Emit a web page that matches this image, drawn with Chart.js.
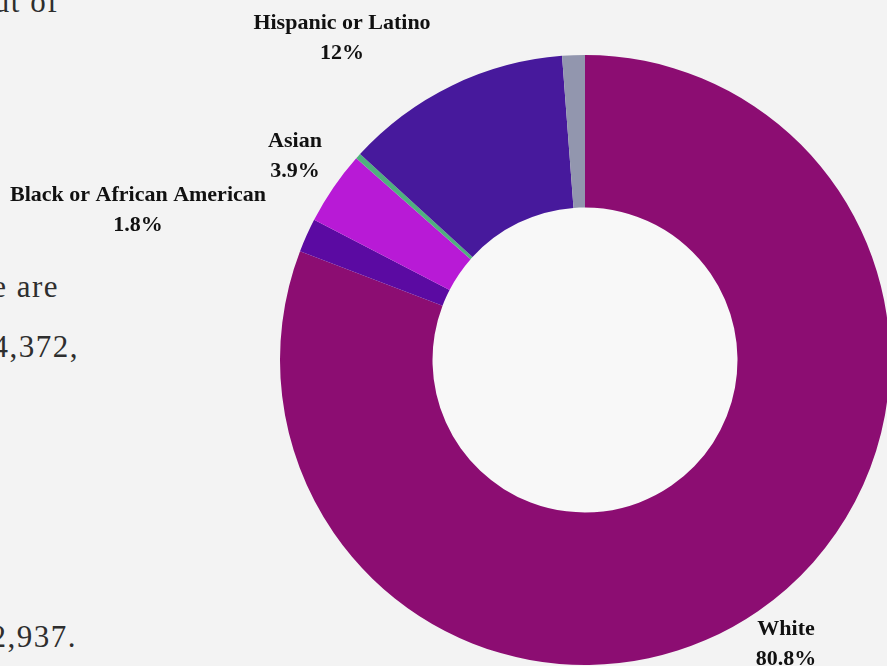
<!DOCTYPE html>
<html>
<head>
<meta charset="utf-8">
<script src="https://cdn.jsdelivr.net/npm/chart.js@4"></script>
<style>

    html, body {
        margin: 0;
        padding: 0;
        width: 887px;
        height: 666px;
        overflow: hidden;
        background: #f3f3f3;
    }

    .texto {
        position: absolute;
        font-family: 'Liberation Serif';
        font-size: 31px;
        line-height: 30px;
        letter-spacing: 1.5px;
        color: #2e2e2e;
        white-space: nowrap;
        text-align: right;
    }

    #contenedor {
        position: absolute;
        left: 0;
        top: 0;
        width: 900px;
        height: 666px;
    }

</style>
</head>
<body>

<!-- fragmentos del texto del documento -->
<div class="texto" style="right:828px; top:-13px;">ut of</div>
<div class="texto" style="right:828px; top:272px;">e are</div>
<div class="texto" style="right:808px; top:332px;">4,372,</div>
<div class="texto" style="right:810px; top:622px;">2,937.</div>

<div id="contenedor">
    <canvas id="graficaRaza"></canvas>
</div>

<script>

// ===============================
// DATOS
// ===============================

const categorias = [
    "White",
    "Black or African American",
    "Asian",
    "American Indian or Alaska Native",
    "Hispanic or Latino",
    "Two or More Races"
];

const porcentajes = [80.8, 1.8, 3.9, 0.3, 12, 1.2];

const etiquetas = ["80.8%", "1.8%", "3.9%", "", "12%", ""];

const colores = [
    "#8c0d72",
    "#5b0aa2",
    "#b81ad6",
    "#4fb07e",
    "#47199c",
    "#9296ae"
];


// ===============================
// ETIQUETAS FUERA DEL ANILLO
// ===============================

// desplazamiento del centro de cada etiqueta respecto al centro del anillo
const posicionEtiqueta = {
    0: [201, 284],
    1: [-447, -150],
    2: [-290, -204],
    4: [-243, -322]
};

const fuenteEtiqueta = "bold 22px 'Liberation Serif'";

const pluginEtiquetas = {

    id: "etiquetasExternas",

    beforeDatasetsDraw(chart) {

        const arco = chart.getDatasetMeta(0).data[0];
        const ctx = chart.ctx;

        ctx.save();
        ctx.fillStyle = "#f8f8f8";
        ctx.beginPath();
        ctx.arc(arco.x, arco.y, arco.innerRadius, 0, Math.PI * 2);
        ctx.fill();
        ctx.restore();

    },

    afterDatasetsDraw(chart) {

        const meta = chart.getDatasetMeta(0);
        const ctx = chart.ctx;

        ctx.save();
        ctx.font = fuenteEtiqueta;
        ctx.fillStyle = "#111";
        ctx.textAlign = "center";
        ctx.textBaseline = "middle";

        Object.keys(posicionEtiqueta).forEach(i => {

            const arco = meta.data[i];
            const pos = posicionEtiqueta[i];

            const x = arco.x + pos[0];
            const y = arco.y + pos[1];

            ctx.fillText(categorias[i], x, y - 15);
            ctx.fillText(etiquetas[i], x, y + 15);

        });

        ctx.restore();

    }

};


// ===============================
// GRÁFICA DE RAZA / ETNIA
// ===============================

function generarGrafica() {

    new Chart(document.getElementById("graficaRaza"), {

        type: "doughnut",

        data: {

            labels: categorias,

            datasets: [{

                data: porcentajes,

                backgroundColor: colores,

                borderWidth: 0

            }]

        },

        options: {

            responsive: true,
            maintainAspectRatio: false,
            animation: false,

            cutout: "50%",

            layout: {
                padding: { left: 280, top: 55, right: 10, bottom: 1 }
            },

            plugins: {

                legend: { display: false },

                tooltip: { enabled: false }

            }

        },

        plugins: [pluginEtiquetas]

    });

}

document.fonts.load(fuenteEtiqueta).then(generarGrafica, generarGrafica);

</script>
</body>
</html>
